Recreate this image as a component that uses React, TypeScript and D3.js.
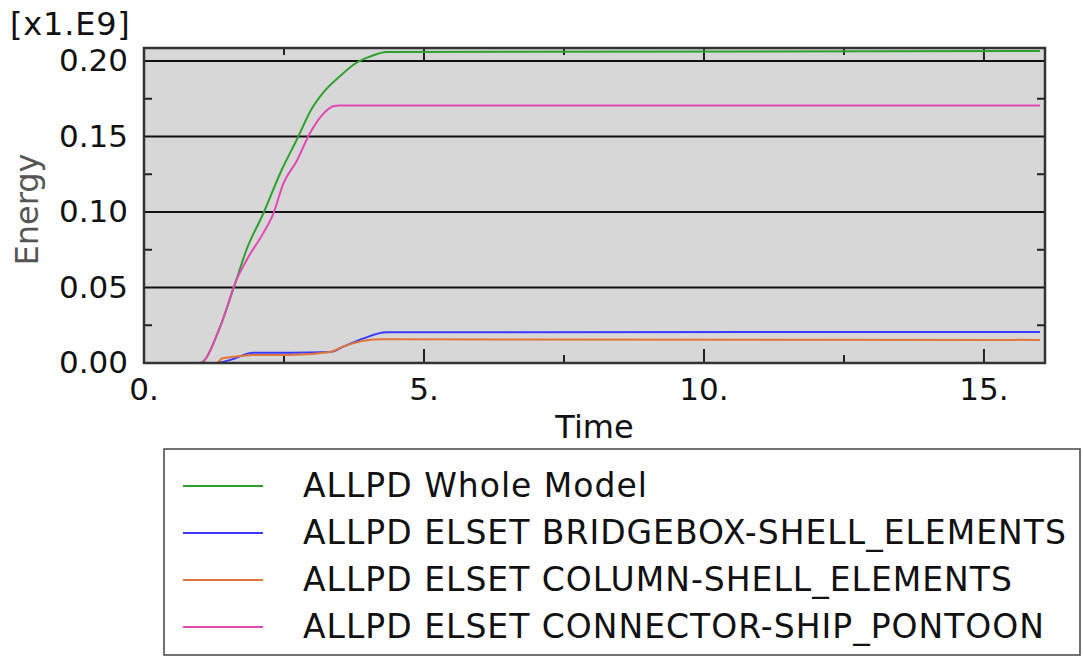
import * as d3 from "d3";
import React, { useEffect, useRef } from "react";

// series: [time, energy x1e9]
const wholeModel: [number, number][] = [
  [0, 0], [1.0, 0], [1.36, 0.024], [1.6, 0.0495], [1.83, 0.075], [2.13, 0.099],
  [2.46, 0.128], [2.73, 0.148], [2.99, 0.168], [3.2, 0.179], [3.5, 0.19],
  [3.8, 0.199], [4.04, 0.203], [4.33, 0.206], [16.0, 0.2066],
];
const bridgebox: [number, number][] = [
  [0, 0], [1.27, 0], [1.54, 0.002], [1.95, 0.0068], [2.6, 0.0068], [3.32, 0.0073],
  [3.56, 0.0108], [3.92, 0.0163], [4.33, 0.0203], [16.0, 0.0206],
];
const column: [number, number][] = [
  [0, 0], [1.3, 0], [1.39, 0.003], [1.54, 0.0038], [1.95, 0.0053], [2.6, 0.0053],
  [3.32, 0.0073], [3.56, 0.011], [3.92, 0.0148], [4.27, 0.0157], [16.0, 0.0153],
];
const connector: [number, number][] = [
  [0, 0], [1.0, 0], [1.36, 0.024], [1.65, 0.055], [1.86, 0.07], [2.13, 0.086],
  [2.31, 0.099], [2.49, 0.119], [2.73, 0.134], [2.96, 0.152], [3.2, 0.165],
  [3.38, 0.17], [3.5, 0.1705], [16.0, 0.1705],
];

const seriesNames = [
  "ALLPD Whole Model",
  "ALLPD ELSET BRIDGEBOX-SHELL_ELEMENTS",
  "ALLPD ELSET COLUMN-SHELL_ELEMENTS",
  "ALLPD ELSET CONNECTOR-SHIP_PONTOON",
];
const seriesColors = ["#2ea02e", "#3a3aff", "#e0753a", "#e048b4"];
const seriesData = [wholeModel, bridgebox, column, connector];

const yTicks = [0, 0.05, 0.1, 0.15, 0.2];
const yMinorTicks = [0.025, 0.075, 0.125, 0.175];
const xTicks = [0, 5, 10, 15];
const xMinorTicks = [2.5, 7.5, 12.5];

const App = () => {
  const svgRef = useRef<SVGSVGElement>(null);

  useEffect(() => {
    const width = 1083;
    const height = 657;
    const left = 144, right = 1045, top = 48, bottom = 363;
    const font = "'DejaVu Sans', Verdana, sans-serif";

    const svg = d3.select(svgRef.current).attr("width", width).attr("height", height);
    svg.selectAll("*").remove();

    const x = d3.scaleLinear().domain([0, 16.09]).range([left, right]);
    const y = d3.scaleLinear().domain([0, 0.2]).range([bottom, 61]);

    // plot background
    svg.append("rect")
      .attr("x", left).attr("y", top)
      .attr("width", right - left).attr("height", bottom - top)
      .attr("fill", "#d7d7d7");

    // grid lines
    svg.append("g").selectAll("line").data(yTicks.slice(1)).join("line")
      .attr("x1", left).attr("x2", right)
      .attr("y1", (d) => y(d)).attr("y2", (d) => y(d))
      .attr("stroke", "#111").attr("stroke-width", 2);

    // tick marks
    const ticks = svg.append("g").attr("stroke", "#222").attr("stroke-width", 2);
    yMinorTicks.forEach((v) => {
      ticks.append("line").attr("x1", left).attr("x2", left + 8).attr("y1", y(v)).attr("y2", y(v));
      ticks.append("line").attr("x1", right - 8).attr("x2", right).attr("y1", y(v)).attr("y2", y(v));
    });
    xTicks.slice(1).forEach((t) => {
      ticks.append("line").attr("x1", x(t)).attr("x2", x(t)).attr("y1", bottom).attr("y2", bottom - 14);
      ticks.append("line").attr("x1", x(t)).attr("x2", x(t)).attr("y1", top).attr("y2", top + 13);
    });
    xMinorTicks.forEach((t) => {
      ticks.append("line").attr("x1", x(t)).attr("x2", x(t)).attr("y1", bottom).attr("y2", bottom - 8);
      ticks.append("line").attr("x1", x(t)).attr("x2", x(t)).attr("y1", top).attr("y2", top + 7);
    });

    // curves
    const line = d3.line<[number, number]>()
      .x((d) => x(d[0]))
      .y((d) => y(d[1]))
      .curve(d3.curveMonotoneX);
    seriesData.forEach((s, i) => {
      svg.append("path")
        .datum(s)
        .attr("fill", "none")
        .attr("stroke", seriesColors[i])
        .attr("stroke-width", 2)
        .attr("d", line);
    });

    // plot border
    svg.append("rect")
      .attr("x", left).attr("y", top)
      .attr("width", right - left).attr("height", bottom - top)
      .attr("fill", "none").attr("stroke", "#333").attr("stroke-width", 2.5);

    // y tick labels
    svg.append("g").selectAll("text").data(yTicks).join("text")
      .attr("x", 128).attr("y", (d) => y(d) + 10)
      .attr("text-anchor", "end")
      .attr("font-family", font).attr("font-size", 31)
      .attr("fill", "#111")
      .text((d) => d.toFixed(2));

    // x tick labels
    svg.append("g").selectAll("text").data(xTicks).join("text")
      .attr("x", (d) => x(d)).attr("y", 400)
      .attr("text-anchor", "middle")
      .attr("font-family", font).attr("font-size", 31)
      .attr("fill", "#111")
      .text((d) => `${d}.`);

    svg.append("text")
      .attr("x", 10).attr("y", 35)
      .attr("font-family", font).attr("font-size", 32)
      .attr("letter-spacing", 0.8)
      .attr("fill", "#111")
      .text("[x1.E9]");

    svg.append("text")
      .attr("transform", `translate(38,${(top + bottom) / 2 + 4}) rotate(-90)`)
      .attr("text-anchor", "middle")
      .attr("font-family", font).attr("font-size", 32)
      .attr("fill", "#555")
      .text("Energy");

    svg.append("text")
      .attr("x", (left + right) / 2).attr("y", 438)
      .attr("text-anchor", "middle")
      .attr("font-family", font).attr("font-size", 32)
      .attr("fill", "#111")
      .text("Time");

    // legend
    const legend = svg.append("g");
    legend.append("rect")
      .attr("x", 164).attr("y", 449).attr("width", 916).attr("height", 206)
      .attr("fill", "#fff").attr("stroke", "#444").attr("stroke-width", 1.5);
    const rowY = d3.scalePoint<number>().domain(d3.range(seriesNames.length)).range([486, 627]);
    seriesNames.forEach((name, i) => {
      const cy = rowY(i) as number;
      legend.append("line")
        .attr("x1", 183).attr("x2", 263).attr("y1", cy).attr("y2", cy)
        .attr("stroke", seriesColors[i]).attr("stroke-width", 2);
      legend.append("text")
        .attr("x", 303).attr("y", cy + 11)
        .attr("font-family", font).attr("font-size", 33)
        .attr("letter-spacing", 1)
        .attr("fill", "#111")
        .text(name);
    });
  }, []);

  return (
    <div style={{ position: "absolute", left: 0, top: 0 }}>
      <svg ref={svgRef}></svg>
    </div>
  );
};

export default App;
